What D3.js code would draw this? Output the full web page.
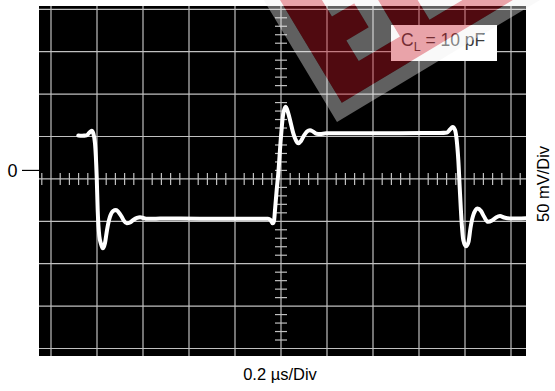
<!DOCTYPE html>
<html><head><meta charset="utf-8">
<script src="https://cdn.jsdelivr.net/npm/d3@7/dist/d3.min.js"></script>
<style>body{margin:0;background:#fff}svg{display:block}</style>
</head><body>
<svg id="c" width="555" height="391"></svg>
<script>
// ---- data (time in ns, voltage in mV) ----
const timeNs = [118.7,134.8,155.2,167.4,177,183.9,191.3,198.7,203,210,217.4,224.8,234.8,243.5,256.5,269.6,282.6,293.5,307.4,317.4,329.1,343.5,357.8,373.9,387,402.2,416.1,439.1,473.9,647.8,821.7,943.5,954.3,963.9,969.6,973.9,981.3,988.3,998.7,1010,1020.4,1031.7,1041.3,1053.5,1065.2,1075.2,1087,1100,1113,1126.1,1139.1,1154.3,1169.6,1195.7,1300,1517.4,1691.3,1721.7,1734.8,1746.5,1756.5,1763.9,1770.9,1778.3,1785.7,1792.6,1804.3,1815.2,1823.9,1834.8,1854.3,1869.6,1882.6,1900,1917.4,1934.8,1952.2,1969.6,1995.7,2030.4,2065.2];
const voltageMv = [41.2,40.8,41.4,44.7,46.8,43.7,32.0,-7.4,-46.7,-77.4,-86.8,-91.9,-85.6,-70.3,-54.6,-47.9,-46.7,-49.1,-54.6,-59.6,-62.4,-61.4,-58.5,-56.1,-55.3,-56.1,-57.0,-57.1,-56.8,-56.9,-57.0,-57.1,-58.5,-62.4,-59.6,-46.7,-23.1,-3.4,35.8,67.3,75.1,67.3,57.1,43.7,35.3,32.0,34.7,41.2,45.9,47.4,45.9,43.2,42.9,43.7,43.7,43.9,44.1,44.7,48.2,51.2,47.6,35.8,12.3,-27.0,-62.4,-82.1,-89.5,-84.4,-67.9,-53.8,-44.9,-47.9,-54.4,-60.6,-59.1,-55.5,-53.8,-55.5,-56.7,-56.7,-56.5];
const timeGridNs = [0,200,400,600,800,1000,1200,1400,1600,1800,2000];
const voltGridMv = [-210,-160,-110,-60,-10,40,90,140,190];
const zeroLabel = "0";
const xLabel = "0.2 \u00b5s/Div";
const yLabel = "50 mV/Div";
const noteMain = "C", noteSub = "L", noteRest = " = 10 pF";

// ---- scales ----
const svg = d3.select("#c");
const x = d3.scaleLinear().domain([0, 2000]).range([51, 511]);
const y = d3.scaleLinear().domain([-210, 190]).range([348.5, 9.3]);
const tMin = x.invert(39), tMax = x.invert(526);
const vMin = y.invert(356), vMax = y.invert(6);

// screen
svg.append("rect").attr("x", x(tMin)).attr("y", y(vMax))
  .attr("width", x(tMax) - x(tMin)).attr("height", y(vMin) - y(vMax)).attr("fill", "#000");

const gridColor = "#c0c0c0";
const g = svg.append("g");
g.selectAll("line.v").data(timeGridNs).join("line")
  .attr("x1", d => x(d)).attr("x2", d => x(d)).attr("y1", y(vMax)).attr("y2", y(vMin))
  .attr("stroke", gridColor).attr("stroke-width", 1.2);
g.selectAll("line.h").data(voltGridMv).join("line")
  .attr("y1", d => y(d)).attr("y2", d => y(d)).attr("x1", x(tMin)).attr("x2", x(tMax))
  .attr("stroke", gridColor).attr("stroke-width", 1.2);

// minor ticks on centre axes
const tCenter = 1000, vCenter = -10;
const tTicks = d3.range(-40, 2060, 40).filter(t => t % 200 !== 0);
const vTicks = d3.range(-210, 200, 10).filter(v => (v + 10) % 50 !== 0);
g.selectAll("line.tt").data(tTicks).join("line")
  .attr("x1", d => x(d)).attr("x2", d => x(d))
  .attr("y1", y(vCenter) - 6).attr("y2", y(vCenter) + 6)
  .attr("stroke", gridColor).attr("stroke-width", 1.2);
g.selectAll("line.vt").data(vTicks).join("line")
  .attr("y1", d => y(d)).attr("y2", d => y(d))
  .attr("x1", x(tCenter) - 6).attr("x2", x(tCenter) + 6)
  .attr("stroke", gridColor).attr("stroke-width", 1.2);

// trace
const pts = timeNs.map((t, i) => [t, voltageMv[i]]);
svg.append("path").datum(pts)
  .attr("d", d3.line().x(d => x(d[0])).y(d => y(d[1])).curve(d3.curveMonotoneX))
  .attr("fill", "none").attr("stroke", "#fff").attr("stroke-width", 4)
  .attr("stroke-linejoin", "round").attr("stroke-linecap", "round");

// zero marker
svg.append("line").attr("x1", 22).attr("x2", x(tMin)).attr("y1", y(0)).attr("y2", y(0))
  .attr("stroke", "#000").attr("stroke-width", 1.2);
const font = "'Liberation Sans', Arial, sans-serif";
svg.append("text").attr("x", 12.5).attr("y", y(0) + 7).attr("text-anchor", "middle")
  .attr("font-family", font).attr("font-size", 18).text(zeroLabel);

// axis labels
svg.append("text").attr("x", 280).attr("y", 380).attr("text-anchor", "middle")
  .attr("font-family", font).attr("font-size", 16.5).text(xLabel);
svg.append("text").attr("transform", "translate(549,184) rotate(-90)").attr("text-anchor", "middle")
  .attr("font-family", font).attr("font-size", 16.5).text(yLabel);

// note box
svg.append("rect").attr("x", 391).attr("y", 25).attr("width", 106).attr("height", 36).attr("fill", "#fff");
const nt = svg.append("text").attr("x", 401).attr("y", 46).attr("font-family", font)
  .attr("font-size", 17.5).attr("fill", "#3c3c3c");
nt.append("tspan").text(noteMain);
nt.append("tspan").attr("font-size", 12.5).attr("dy", 5).text(noteSub);
nt.append("tspan").attr("dy", -5).text(noteRest);

// watermark (rotated logo overlay)
const wm = svg.append("g").attr("transform", "translate(337,122) rotate(-31)");
const S = 300, b = 14;
const sq = (u0, v0, u1, v1) => `M${u0},${-v0}L${u1},${-v0}L${u1},${-v1}L${u0},${-v1}Z`;
const letterE = "M50,-41L98,-41L98,-160L50,-160L50,-93L76,-93L76,-65L50,-65Z";
const letterL = "M132,-40L200,-40L200,-64L156,-64L156,-200L132,-200Z";
wm.append("path").attr("d", sq(0, 0, S, S) + sq(b, b, S - b, S - b))
  .attr("fill-rule", "evenodd").attr("fill", "rgba(240,240,240,0.4)");
wm.append("path").attr("d", sq(b, b, S - b, S - b) + letterE + letterL)
  .attr("fill-rule", "evenodd").attr("fill", "rgba(200,25,40,0.4)");
wm.append("path").attr("d", letterE + letterL).attr("fill", "rgba(240,240,240,0.4)");
</script>
</body></html>
